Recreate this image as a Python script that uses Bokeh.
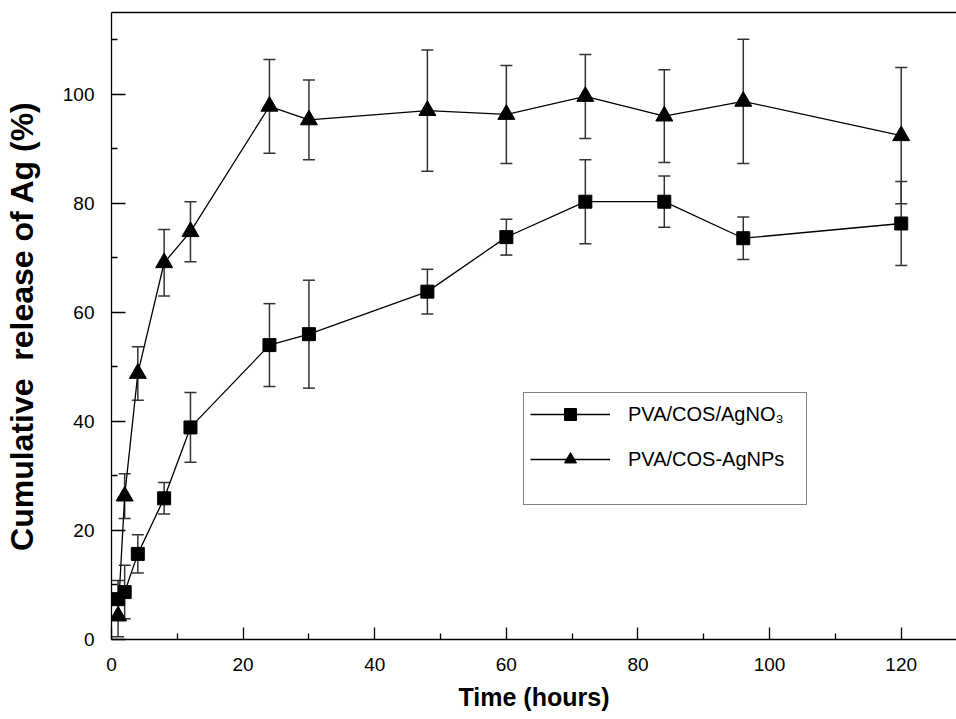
from bokeh.plotting import figure
from bokeh.models import (ColumnDataSource, Whisker, TeeHead, Legend, LegendItem,
                          FixedTicker, LinearAxis, Range1d)
from bokeh.embed import file_html
from bokeh.resources import INLINE

# ---- data ----
time_h = [1, 2, 4, 8, 12, 24, 30, 48, 60, 72, 84, 96, 120]
agno3 = [7.4, 8.7, 15.7, 25.9, 38.9, 54.0, 56.0, 63.8, 73.8, 80.3, 80.3, 73.6, 76.3]
agno3_err = [3.4, 4.9, 3.5, 2.9, 6.4, 7.6, 9.9, 4.1, 3.3, 7.7, 4.7, 3.9, 7.7]
agnps = [4.3, 26.3, 48.8, 69.1, 74.8, 97.8, 95.3, 97.0, 96.3, 99.6, 96.0, 98.7, 92.4]
agnps_err = [3.8, 4.1, 4.9, 6.1, 5.5, 8.6, 7.3, 11.1, 9.0, 7.7, 8.5, 11.4, 12.5]

x_ticks = [0, 20, 40, 60, 80, 100, 120]
x_minor = [10, 30, 50, 70, 90, 110]
y_ticks = [0, 20, 40, 60, 80, 100]
y_minor = [10, 30, 50, 70, 90, 110]

label_a = "PVA/COS/AgNO\u2083"
label_b = "PVA/COS-AgNPs"
x_title = "Time (hours)"
y_title = "Cumulative\u00a0 release of Ag (%)"

FONT = "Liberation Sans"

src_a = ColumnDataSource(dict(x=time_h, y=agno3,
                              lo=[v - e for v, e in zip(agno3, agno3_err)],
                              hi=[v + e for v, e in zip(agno3, agno3_err)]))
src_b = ColumnDataSource(dict(x=time_h, y=agnps,
                              lo=[v - e for v, e in zip(agnps, agnps_err)],
                              hi=[v + e for v, e in zip(agnps, agnps_err)]))

p = figure(width=956, height=716, output_backend="svg", toolbar_location=None,
           x_range=Range1d(0, 128.4), y_range=Range1d(0, 115),
           min_border_left=111, min_border_right=0, min_border_top=12,
           min_border_bottom=77,
           x_axis_label=x_title, y_axis_label=y_title)
p.outline_line_color = None
p.grid.visible = False
p.background_fill_color = "white"
p.border_fill_color = "white"

for ax, ticks, minor in ((p.xaxis[0], x_ticks, x_minor), (p.yaxis[0], y_ticks, y_minor)):
    ax.ticker = FixedTicker(ticks=ticks, minor_ticks=minor)
    ax.axis_line_color = "black"
    ax.axis_line_width = 1.3
    ax.major_tick_line_color = "black"
    ax.minor_tick_line_color = "black"
    ax.major_tick_line_width = 1.3
    ax.minor_tick_line_width = 1.3
    ax.major_tick_out = 0
    ax.minor_tick_out = 0
    ax.minor_tick_in = 6
    ax.major_label_text_font = FONT
    ax.major_label_text_font_size = "19px"
    ax.major_label_text_color = "black"
    ax.axis_label_text_font = FONT
    ax.axis_label_text_font_style = "bold"
    ax.axis_label_text_color = "black"

p.xaxis[0].major_tick_in = 12
p.yaxis[0].major_tick_in = 14
p.xaxis[0].major_label_standoff = 18
p.yaxis[0].major_label_standoff = 17
p.xaxis[0].axis_label_standoff = 9
p.yaxis[0].axis_label_standoff = 20
p.xaxis[0].axis_label_text_font_size = "25px"
p.yaxis[0].axis_label_text_font_size = "32px"

# top frame line
top = LinearAxis(ticker=FixedTicker(ticks=[]), major_tick_out=0, major_tick_in=0,
                 minor_tick_out=0, minor_tick_in=0, major_label_standoff=0,
                 major_label_text_font_size="0px", axis_line_color="black",
                 axis_line_width=1.3)
p.add_layout(top, "above")

# error bars
for src in (src_a, src_b):
    w = Whisker(source=src, base="x", upper="hi", lower="lo",
                line_color="#333333", line_width=1.5,
                upper_head=TeeHead(size=12, line_color="#333333", line_width=1.5),
                lower_head=TeeHead(size=12, line_color="#333333", line_width=1.5))
    w.level = "underlay"
    p.add_layout(w)

la = p.line("x", "y", source=src_a, line_color="black", line_width=1.3)
ma = p.scatter("x", "y", source=src_a, marker="square", size=13,
               fill_color="black", line_color="black")
lb = p.line("x", "y", source=src_b, line_color="black", line_width=1.3)
mb = p.scatter("x", "y", source=src_b, marker="triangle", size=17,
               fill_color="black", line_color="black")

legend_kw = dict(
    items=[LegendItem(label=label_a, renderers=[la, ma]),
           LegendItem(label=label_b, renderers=[lb, mb])],
    location=(412, 134),
    border_line_color="black", border_line_width=1.2,
    background_fill_color="white", background_fill_alpha=1.0,
    padding=6, spacing=15, margin=0,
    glyph_width=80, glyph_height=30,
    label_standoff=18, label_width=172, label_height=30,
    label_text_font=FONT, label_text_font_size="20px", label_text_color="black",
)
if "title_location" in Legend.properties():
    legend_kw.update(title=" ", title_location="below",
                     title_text_font_size="14px", title_standoff=8)
legend = Legend(**legend_kw)
p.add_layout(legend, "center")

open("out.html", "w").write(file_html(p, INLINE))
